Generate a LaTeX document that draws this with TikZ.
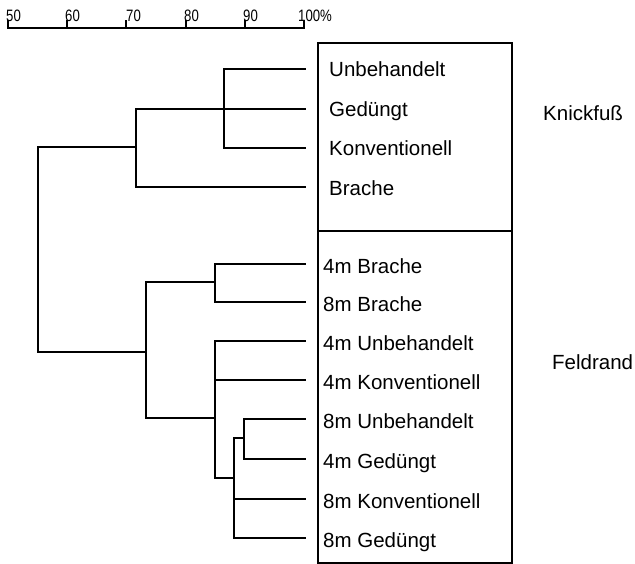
\documentclass[tikz,border=0pt]{standalone}
\usepackage{fontspec}
\setmainfont{Liberation Sans}
\newfontfamily\scalefnt[FakeStretch=0.8]{Liberation Sans}
\begin{document}
\begin{tikzpicture}[x=1bp,y=-1bp,
  br/.style={line width=2bp,line cap=rect},
  leaflab/.style={anchor=base west,inner sep=0pt,font=\fontsize{20.5bp}{24bp}\selectfont},
  grouplab/.style={anchor=base west,inner sep=0pt,font=\fontsize{20.5bp}{24bp}\selectfont},
  scalelab/.style={anchor=base west,inner sep=0pt,font=\scalefnt\fontsize{16.5bp}{19bp}\selectfont}]
\useasboundingbox (0,0) rectangle (635,564);
% scale bar
\coordinate (s50) at (8,28);
\coordinate (s100) at (304,28);
\draw[br] (s50) -- (s100);
\foreach \v/\x in {50/8,60/67,70/126,80/186,90/245,100/304}{
  \coordinate (t\v) at (\x,28);
  \draw[line width=1.8bp] (t\v) -- ++(0,-8);
}
\node[scalelab] (l50) at (6,21.5) {50};
\node[scalelab] (l60) at (65,21.5) {60};
\node[scalelab] (l70) at (126,21.5) {70};
\node[scalelab] (l80) at (184,21.5) {80};
\node[scalelab] (l90) at (243,21.5) {90};
\node[scalelab] (l100) at (298,21.5) {100\%};
% box
\node[draw,line width=2bp,inner sep=0pt,minimum width=194bp,minimum height=520bp,anchor=north west] (box) at (317,42) {};
\coordinate (divL) at (317,231);
\coordinate (divR) at (511,231);
\draw[line width=2bp] (divL) -- (divR);
% leaf ends
\foreach \n/\y in {1/69,2/109,3/148,4/187,5/264,6/302,7/341,8/380,9/419,10/459,11/499,12/538}{
  \coordinate (e\n) at (305,\y);
}
% leaf labels
\node[leaflab] (n1) at (329,77) {Unbehandelt};
\node[leaflab] (n2) at (329,117) {Gedüngt};
\node[leaflab] (n3) at (329,156) {Konventionell};
\node[leaflab] (n4) at (329,195) {Brache};
\node[leaflab] (n5) at (323,273) {4m Brache};
\node[leaflab] (n6) at (323,311) {8m Brache};
\node[leaflab] (n7) at (323,350) {4m Unbehandelt};
\node[leaflab] (n8) at (323,389) {4m Konventionell};
\node[leaflab] (n9) at (323,428) {8m Unbehandelt};
\node[leaflab] (n10) at (323,468) {4m Gedüngt};
\node[leaflab] (n11) at (323,508) {8m Konventionell};
\node[leaflab] (n12) at (323,547) {8m Gedüngt};
\node[grouplab] (knick) at (543,121) {Knickfuß};
\node[grouplab] (feld) at (552,369) {Feldrand};
% internal nodes
\coordinate (k1) at (224,109);
\coordinate (k2) at (136,147);
\coordinate (root) at (38,352);
\coordinate (f1) at (146,352);
\coordinate (f2) at (215,282);
\coordinate (f3) at (215,418);
\coordinate (f4) at (234,478);
\coordinate (f5) at (244,438);
% Knickfuss cluster
\draw[br] (e1) -- (e1 -| k1) -- (e3 -| k1) -- (e3);
\draw[br] (e2) -- (e2 -| k2) -- (e4 -| k2) -- (e4);
\draw[br] (k2) -- (root |- k2) -- (root) -- (f1);
% Feldrand cluster
\draw[br] (e5) -- (e5 -| f2) -- (e6 -| f2) -- (e6);
\draw[br] (f2) -- (f2 -| f1) -- (f3 -| f1) -- (f3);
\draw[br] (e7) -- (e7 -| f3) -- (f4 -| f3) -- (f4);
\draw[br] (e8) -- (e8 -| f3);
\draw[br] (f5) -- (f5 -| f4) -- (e12 -| f4) -- (e12);
\draw[br] (e11) -- (e11 -| f4);
\draw[br] (e9) -- (e9 -| f5) -- (e10 -| f5) -- (e10);
\end{tikzpicture}
\end{document}
